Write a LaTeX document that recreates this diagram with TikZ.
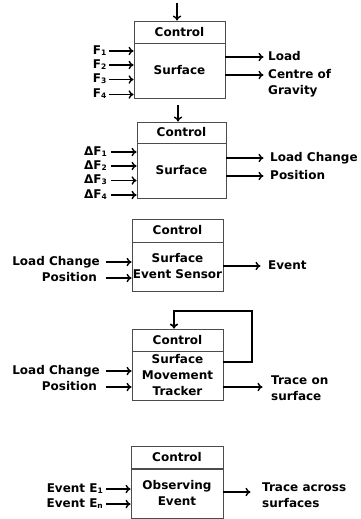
\documentclass[tikz,border=0pt]{standalone}
\usepackage{fontspec}
\setmainfont{DejaVu Sans}
\usetikzlibrary{arrows.meta,calc}
\newcommand{\subdig}[1]{\raisebox{-0.8pt}{\fontsize{7.5}{7.5}\selectfont #1}}

\begin{document}
\begin{tikzpicture}[x=1pt,y=-1pt,
  font=\bfseries\fontsize{12}{16}\selectfont,
  part/.style={draw=black!70, line width=0.9pt, inner sep=0pt, align=center},
  lab/.style={inner sep=1.5pt, text height=8.8pt, text depth=2pt},
  arr/.style={-{To[length=5pt,width=8.5pt]}, line width=1.4pt},
  loop/.style={arr, line width=1.7pt}]

\useasboundingbox (0,0) rectangle (360,519);

% ---------- block 1: forces on the surface ----------
\node[part, minimum width=91pt, minimum height=22pt] (c1) at (179.5,32) {Control};
\node[part, minimum width=91pt, minimum height=55pt] (s1) at (179.5,70.5) {Surface};
\coordinate (t1) at (177,3);
\draw[arr] (t1) -- (t1 |- c1.north);
\node[lab, anchor=east] (f1) at (108,51) {F\subdig{1}};
\node[lab, anchor=east] (f2) at (108,65) {F\subdig{2}};
\node[lab, anchor=east] (f3) at (108,79.5) {F\subdig{3}};
\node[lab, anchor=east] (f4) at (108,94.5) {F\subdig{4}};
\foreach \n in {f1,f2,f3,f4} \draw[arr] ([xshift=1pt]\n.east) -- (\n.east -| s1.west);
\node[lab, anchor=west] (o11) at (266.5,57) {Load};
\node[lab, anchor=west] (o12) at (266.5,75) {Centre of};
\node[lab, anchor=west] (o13) at (266.5,91) {Gravity};
\draw[arr] (s1.east |- o11.west) -- ([xshift=-3pt]o11.west);
\draw[arr] (s1.east |- o12.west) -- ([xshift=-3pt]o12.west);

% ---------- block 2: force changes ----------
\node[part, minimum width=89pt, minimum height=21pt] (c2) at (181.5,132.5) {Control};
\node[part, minimum width=89pt, minimum height=55pt] (s2) at (181.5,170.5) {Surface};
\coordinate (t2) at (178,105);
\draw[arr] (t2) -- (t2 |- c2.north);
\node[lab, anchor=east] (d1) at (108.5,152) {ΔF\subdig{1}};
\node[lab, anchor=east] (d2) at (108.5,166) {ΔF\subdig{2}};
\node[lab, anchor=east] (d3) at (108.5,180.5) {ΔF\subdig{3}};
\node[lab, anchor=east] (d4) at (108.5,195) {ΔF\subdig{4}};
\foreach \n in {d1,d2,d3,d4} \draw[arr] ([xshift=2.5pt]\n.east) -- (\n.east -| s2.west);
\node[lab, anchor=west] (o21) at (268.5,158) {Load Change};
\node[lab, anchor=west] (o22) at (268.5,176) {Position};
\draw[arr] (s2.east |- o21.west) -- ([xshift=-5pt]o21.west);
\draw[arr] (s2.east |- o22.west) -- ([xshift=-5pt]o22.west);

% ---------- block 3: event sensor ----------
\node[part, minimum width=91pt, minimum height=23pt] (c3) at (177.5,230.5) {Control};
\node[part, minimum width=91pt, minimum height=49pt] (s3) at (177.5,266.5) {Surface\\Event Sensor};
\node[lab, anchor=east] (i31) at (101.5,262) {Load Change};
\node[lab, anchor=east] (i32) at (98.5,278) {Position};
\draw[arr] ([xshift=4.5pt]i31.east) -- (i31.east -| s3.west);
\draw[arr] ([xshift=7.5pt]i32.east) -- (i32.east -| s3.west);
\node[lab, anchor=west] (o31) at (266.5,266) {Event};
\draw[arr] (s3.east |- o31.west) -- ([xshift=-6pt]o31.west);

% ---------- block 4: movement tracker ----------
\node[part, minimum width=91pt, minimum height=22pt] (c4) at (177.5,340) {Control};
\node[part, minimum width=91pt, minimum height=49pt] (s4) at (177.5,375.5) {Surface\\Movement\\Tracker};
\draw[loop] (s4.east |- 0,362) -| (252,311) -| (c4.north -| 174,0);
\node[lab, anchor=east] (i41) at (101.5,371) {Load Change};
\node[lab, anchor=east] (i42) at (98.5,387) {Position};
\draw[arr] ([xshift=4.5pt]i41.east) -- (i41.east -| s4.west);
\draw[arr] ([xshift=7.5pt]i42.east) -- (i42.east -| s4.west);
\node[lab, anchor=west, align=left, text height=, text depth=] (o41) at (269.5,388.5) {Trace on\\surface};
\draw[arr] (s4.east |- 0,387) -- ([xshift=-7pt]o41.west |- 0,387);

% ---------- block 5: observing events ----------
\node[part, minimum width=92pt, minimum height=22pt] (c5) at (177,457) {Control};
\node[part, minimum width=92pt, minimum height=49pt] (s5) at (177,493.5) {Observing\\Event};
\node[lab, anchor=east] (e1) at (104.5,489) {Event E\subdig{1}};
\node[lab, anchor=east] (e2) at (104.5,504) {Event E\subdig{n}};
\draw[arr] ([xshift=1.5pt]e1.east) -- (e1.east -| s5.west);
\draw[arr] ([xshift=1.5pt]e2.east) -- (e2.east -| s5.west);
\node[lab, anchor=west, align=left, text height=, text depth=] (o51) at (260.5,495) {Trace across\\surfaces};
\draw[arr] (s5.east |- 0,492) -- ([xshift=-10pt]o51.west |- 0,492);

\end{tikzpicture}
\end{document}
